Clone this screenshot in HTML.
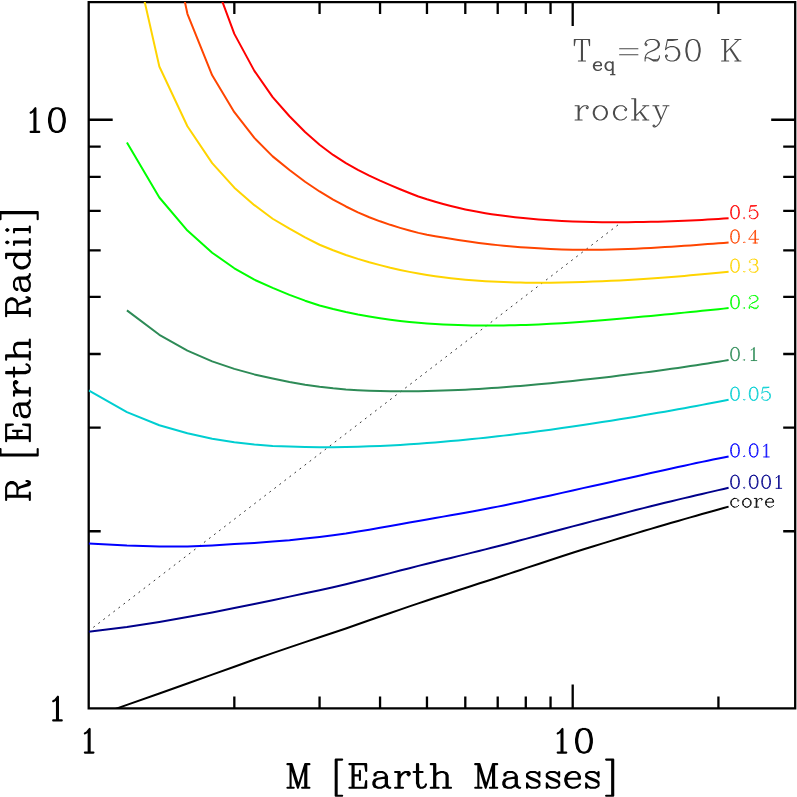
<!DOCTYPE html>
<html lang="en"><head><meta charset="utf-8"><title>Mass-radius relation, T_eq=250 K, rocky</title>
<style>html,body{margin:0;padding:0;background:#fff;font-family:"Liberation Serif",serif}svg{display:block}</style>
</head><body>
<svg width="797" height="797" viewBox="0 0 797 797" style="display:block">
<rect width="797" height="797" fill="#fff"/>
<defs><clipPath id="fr"><rect x="88.7" y="2.1" width="706.5" height="706.35"/></clipPath></defs>
<path d="M88.7 2.1H795.2V708.45H88.7ZM234.33 708.45v-12M234.33 2.1v12M319.57 708.45v-12M319.57 2.1v12M380.06 708.45v-12M380.06 2.1v12M426.97 708.45v-12M426.97 2.1v12M465.3 708.45v-12M465.3 2.1v12M497.71 708.45v-12M497.71 2.1v12M525.79 708.45v-12M525.79 2.1v12M550.55 708.45v-12M550.55 2.1v12M572.7 708.45v-24M572.7 2.1v24M718.43 708.45v-12M718.43 2.1v12M88.7 531.23h12M795.2 531.23h-12M88.7 427.57h12M795.2 427.57h-12M88.7 354.02h12M795.2 354.02h-12M88.7 296.97h12M795.2 296.97h-12M88.7 250.35h12M795.2 250.35h-12M88.7 210.94h12M795.2 210.94h-12M88.7 176.8h12M795.2 176.8h-12M88.7 146.69h12M795.2 146.69h-12M88.7 119.75h24M795.2 119.75h-24" fill="none" stroke="#000" stroke-width="2.3" stroke-linecap="butt" stroke-linejoin="miter"/>
<line x1="88.6" y1="631.0" x2="618.4" y2="224.6" stroke="#222" stroke-width="0.92" stroke-dasharray="1.9 4.44" stroke-dashoffset="0.4" fill="none"/>
<g clip-path="url(#fr)" fill="none" stroke-width="2" stroke-linejoin="round" stroke-linecap="butt">
<polyline stroke="#ff0000" points="212.18,-25.8 234.33,33.89 254.37,70.87 272.66,97.15 289.49,116.26 305.07,132.06 319.57,144.74 333.14,154.95 345.89,163.14 357.91,169.79 369.27,175.61 380.06,180.69 390.31,185.21 400.1,189.29 409.44,193.04 418.39,196.47 426.97,199.26 435.22,201.73 443.15,203.97 450.8,205.99 458.18,207.79 465.3,209.4 472.2,210.83 478.87,212.09 485.34,213.21 491.62,214.19 497.71,215.05 503.63,215.86 509.4,216.6 515,217.25 520.46,217.83 525.79,218.35 538.53,219.39 550.55,220.26 561.92,220.92 572.7,221.4 582.96,221.75 592.74,221.98 602.08,222.13 611.03,222.21 619.61,222.22 627.86,222.19 635.79,222.11 643.44,222 650.82,221.86 657.95,221.7 664.84,221.5 671.51,221.29 677.98,221.05 684.26,220.8 690.35,220.53 696.28,220.24 702.04,219.94 707.64,219.62 713.11,219.29 718.43,218.94 723.62,218.57 728.6,218.2"/>
<polyline stroke="#ff4500" points="159.34,-118.8 187.41,13.8 212.18,75.3 234.33,112.18 254.37,137.89 272.66,156.35 289.49,170.04 305.07,181.77 319.57,191.47 333.14,199.59 345.89,206.49 357.91,212.4 369.27,217.21 380.06,221.32 390.31,224.83 400.1,227.85 409.44,230.51 418.39,232.87 426.97,234.7 435.22,236.24 443.15,237.61 450.8,238.83 458.18,239.9 465.3,240.99 472.2,242.01 478.87,242.92 485.34,243.74 491.62,244.47 497.71,245.12 503.63,245.73 509.4,246.28 515,246.77 520.46,247.2 525.79,247.58 538.53,248.33 550.55,248.96 561.92,249.4 572.7,249.67 582.96,249.79 592.74,249.8 602.08,249.71 611.03,249.54 619.61,249.31 627.86,249.02 635.79,248.7 643.44,248.34 650.82,247.95 657.95,247.54 664.84,247.12 671.51,246.69 677.98,246.26 684.26,245.82 690.35,245.38 696.28,244.95 702.04,244.52 707.64,244.1 713.11,243.68 718.43,243.28 723.62,242.89 728.6,242.52"/>
<polyline stroke="#ffd400" points="126.93,-76.6 159.34,66.5 187.41,126.2 212.18,163.1 234.33,187.69 254.37,205.15 272.66,218.76 289.49,228.72 305.07,237.43 319.57,244.74 333.14,250.3 345.89,254.96 357.91,258.9 369.27,262.25 380.06,265.11 390.31,267.71 400.1,269.95 409.44,271.88 418.39,273.56 426.97,274.99 435.22,276.22 443.15,277.28 450.8,278.2 458.18,279 465.3,279.68 472.2,280.27 478.87,280.77 485.34,281.19 491.62,281.55 497.71,281.85 503.63,282.1 509.4,282.3 515,282.45 520.46,282.57 525.79,282.66 538.53,282.75 550.55,282.69 561.92,282.52 572.7,282.26 582.96,281.95 592.74,281.61 602.08,281.23 611.03,280.82 619.61,280.38 627.86,279.92 635.79,279.44 643.44,278.95 650.82,278.45 657.95,277.95 664.84,277.44 671.51,276.92 677.98,276.41 684.26,275.89 690.35,275.37 696.28,274.85 702.04,274.33 707.64,273.81 713.11,273.29 718.43,272.77 723.62,272.25 728.6,271.75"/>
<polyline stroke="#00ff00" points="126.93,142.5 159.34,197.5 187.41,230.6 212.18,252.7 234.33,268.29 254.37,279.71 272.66,287.87 289.49,294.91 305.07,300.68 319.57,305.47 333.14,309.06 345.89,312.03 357.91,314.51 369.27,316.57 380.06,318.29 390.31,319.72 400.1,320.9 409.44,321.89 418.39,322.69 426.97,323.4 435.22,323.98 443.15,324.46 450.8,324.83 458.18,325.12 465.3,325.33 472.2,325.48 478.87,325.56 485.34,325.6 491.62,325.6 497.71,325.56 503.63,325.48 509.4,325.37 515,325.24 520.46,325.08 525.79,324.91 538.53,324.39 550.55,323.8 561.92,323.14 572.7,322.45 582.96,321.74 592.74,321.01 602.08,320.27 611.03,319.53 619.61,318.79 627.86,318.05 635.79,317.33 643.44,316.62 650.82,315.92 657.95,315.23 664.84,314.56 671.51,313.9 677.98,313.25 684.26,312.62 690.35,312.01 696.28,311.41 702.04,310.82 707.64,310.25 713.11,309.69 718.43,309.15 723.62,308.62 728.6,308.11"/>
<polyline stroke="#2e8b57" points="126.93,310.4 159.34,334.8 187.41,350.6 212.18,361.4 234.33,368.9 254.37,374.4 272.66,378.48 289.49,382.07 305.07,384.71 319.57,386.75 333.14,388.32 345.89,389.44 357.91,390.2 369.27,390.72 380.06,391.06 390.31,391.24 400.1,391.31 409.44,391.27 418.39,391.15 426.97,391 435.22,390.81 443.15,390.57 450.8,390.29 458.18,389.97 465.3,389.63 472.2,389.26 478.87,388.88 485.34,388.48 491.62,388.06 497.71,387.64 503.63,387.21 509.4,386.77 515,386.33 520.46,385.88 525.79,385.43 538.53,384.3 550.55,383.18 561.92,382.05 572.7,380.94 582.96,379.84 592.74,378.76 602.08,377.69 611.03,376.65 619.61,375.61 627.86,374.6 635.79,373.6 643.44,372.62 650.82,371.65 657.95,370.69 664.84,369.75 671.51,368.82 677.98,367.9 684.26,366.99 690.35,366.09 696.28,365.2 702.04,364.32 707.64,363.45 713.11,362.59 718.43,361.73 723.62,360.88 728.6,360.05"/>
<polyline stroke="#00ced1" points="88.6,390.3 126.93,412.1 159.34,425.2 187.41,433.2 212.18,438.7 234.33,442.2 254.37,444.5 272.66,446 289.49,446.53 305.07,446.95 319.57,447.14 333.14,447.14 345.89,446.99 357.91,446.72 369.27,446.36 380.06,445.93 390.31,445.44 400.1,444.9 409.44,444.33 418.39,443.72 426.97,443.1 435.22,442.45 443.15,441.79 450.8,441.12 458.18,440.44 465.3,439.76 472.2,439.07 478.87,438.38 485.34,437.69 491.62,437 497.71,436.32 503.63,435.63 509.4,434.95 515,434.27 520.46,433.6 525.79,432.93 538.53,431.28 550.55,429.66 561.92,428.07 572.7,426.53 582.96,425.01 592.74,423.54 602.08,422.09 611.03,420.68 619.61,419.31 627.86,417.96 635.79,416.64 643.44,415.36 650.82,414.1 657.95,412.86 664.84,411.66 671.51,410.47 677.98,409.31 684.26,408.18 690.35,407.06 696.28,405.96 702.04,404.89 707.64,403.83 713.11,402.79 718.43,401.77 723.62,400.77 728.6,399.8"/>
<polyline stroke="#0000ff" points="88.6,543.4 126.93,545.6 159.34,546.6 187.41,546.4 212.18,545.4 234.33,544.11 254.37,542.91 272.66,541.55 289.49,540.2 305.07,538.58 319.57,536.94 333.14,535.32 345.89,533.52 357.91,531.55 369.27,529.65 380.06,527.8 390.31,526.01 400.1,524.28 409.44,522.59 418.39,520.96 426.97,519.47 435.22,518.04 443.15,516.64 450.8,515.28 458.18,513.96 465.3,512.66 472.2,511.4 478.87,510.16 485.34,508.96 491.62,507.77 497.71,506.61 503.63,505.42 509.4,504.23 515,503.06 520.46,501.91 525.79,500.78 538.53,498.04 550.55,495.41 561.92,492.88 572.7,490.44 582.96,488.14 592.74,486 602.08,483.95 611.03,481.96 619.61,480.05 627.86,478.21 635.79,476.43 643.44,474.72 650.82,473.07 657.95,471.48 664.84,469.94 671.51,468.47 677.98,467.05 684.26,465.68 690.35,464.36 696.28,463.09 702.04,461.87 707.64,460.7 713.11,459.57 718.43,458.49 723.62,457.44 728.6,456.46"/>
<polyline stroke="#00008b" points="88.6,631.7 126.93,627.1 159.34,621.9 187.41,617 212.18,612.4 234.33,608 254.37,603.9 272.66,600.24 289.49,596.64 305.07,593.33 319.57,590.21 333.14,587.27 345.89,584.3 357.91,581.3 369.27,578.44 380.06,575.71 390.31,573.1 400.1,570.59 409.44,568.19 418.39,565.88 426.97,563.77 435.22,561.75 443.15,559.81 450.8,557.93 458.18,556.12 465.3,554.35 472.2,552.65 478.87,550.99 485.34,549.39 491.62,547.82 497.71,546.3 503.63,544.77 509.4,543.24 515,541.74 520.46,540.29 525.79,538.87 538.53,535.48 550.55,532.28 561.92,529.25 572.7,526.39 582.96,523.68 592.74,521.14 602.08,518.73 611.03,516.42 619.61,514.22 627.86,512.11 635.79,510.09 643.44,508.15 650.82,506.3 657.95,504.51 664.84,502.82 671.51,501.2 677.98,499.64 684.26,498.14 690.35,496.69 696.28,495.29 702.04,493.94 707.64,492.63 713.11,491.37 718.43,490.15 723.62,488.96 728.6,487.84"/>
<polyline stroke="#000000" points="88.6,718.5 126.93,704.9 159.34,693.5 187.41,683.5 212.18,674.6 234.33,666.7 254.37,659.5 272.66,653.14 289.49,647.37 305.07,642.11 319.57,637.27 333.14,632.78 345.89,628.45 357.91,624.23 369.27,620.26 380.06,616.51 390.31,612.97 400.1,609.61 409.44,606.41 418.39,603.36 426.97,600.51 435.22,597.79 443.15,595.18 450.8,592.68 458.18,590.27 465.3,587.95 472.2,585.71 478.87,583.55 485.34,581.46 491.62,579.44 497.71,577.48 503.63,575.53 509.4,573.61 515,571.74 520.46,569.93 525.79,568.16 538.53,563.95 550.55,560.01 561.92,556.29 572.7,552.78 582.96,549.5 592.74,546.48 602.08,543.6 611.03,540.87 619.61,538.25 627.86,535.76 635.79,533.37 643.44,531.08 650.82,528.89 657.95,526.78 664.84,524.75 671.51,522.8 677.98,520.92 684.26,519.11 690.35,517.36 696.28,515.67 702.04,514.04 707.64,512.46 713.11,510.93 718.43,509.45 723.62,508.02 728.6,506.66"/>
</g>
<g transform="translate(285.25 787.8)" role="img" aria-label="M [Earth Masses]"><title>M [Earth Masses]</title><path d="M2.18 -23.67L6.37 -23.67L12.66 -3.38M2.18 0L8.47 0M5.33 0L5.33 -23.67L12.66 0L20 -23.67L24.19 -23.67M16.86 0L24.19 0M20 -23.67L20 0M21.05 -23.67L21.05 0M51.39 -28.18L51.39 7.89L56.93 7.89M51.39 -28.18L56.93 -28.18M51.39 -28.18L50.47 -28.18L50.47 7.89L51.39 7.89M64.16 -23.67L80.93 -23.67L80.93 -16.91L79.88 -23.67M64.16 0L80.93 0L80.93 -6.76L79.88 0M67.3 -23.67L67.3 0M68.35 -23.67L68.35 0M68.35 -12.4L74.64 -12.4L74.64 -16.91M74.64 -12.4L74.64 -7.89M90.39 -13.52L90.39 -12.4L89.26 -12.4L89.26 -13.52L90.39 -14.65L92.64 -15.78L97.15 -15.78L99.4 -14.65L100.53 -13.52L101.66 -11.27L101.66 -3.38L102.78 -1.13L103.91 0L105.04 0M92.64 -9.02L99.4 -10.14L100.53 -11.27L100.53 -13.52M92.64 -9.02L89.26 -7.89L88.13 -5.63L88.13 -3.38L89.26 -1.13L92.64 0L96.02 0L98.28 -1.13L100.53 -3.38L100.53 -11.27M92.64 -9.02L90.39 -7.89L89.26 -5.63L89.26 -3.38L90.39 -1.13L92.64 0M100.53 -3.38L101.66 -1.13L103.91 0M109.85 -15.78L114.35 -15.78L114.35 0L109.85 0M113.23 -15.78L113.23 0M114.35 -9.02L115.48 -12.4L117.74 -14.65L119.99 -15.78L123.37 -15.78L124.5 -14.65L124.5 -13.52L123.37 -12.4L122.24 -13.52L123.37 -14.65M114.35 0L117.74 0M128.35 -15.78L137.37 -15.78M131.74 -23.67L131.74 -4.51L132.86 -1.13L135.12 0L137.37 0L139.62 -1.13L140.75 -3.38M132.86 -23.67L132.86 -4.51L133.99 -1.13L135.12 0M145.51 -23.67L150.02 -23.67L150.02 0L145.51 0M148.89 -23.67L148.89 0M150.02 -12.4L152.27 -14.65L155.65 -15.78L157.91 -15.78L161.29 -14.65L162.41 -12.4L162.41 0L165.8 0M150.02 0L153.4 0M157.91 -15.78L160.16 -14.65L161.29 -12.4L161.29 0L162.41 0M157.91 0L161.29 0M189.96 -23.67L194.16 -23.67L200.45 -3.38M189.96 0L196.25 0M193.11 0L193.11 -23.67L200.45 0L207.78 -23.67L211.97 -23.67M204.64 0L211.97 0M207.78 -23.67L207.78 0M208.83 -23.67L208.83 0M220.29 -13.52L220.29 -12.4L219.17 -12.4L219.17 -13.52L220.29 -14.65L222.55 -15.78L227.05 -15.78L229.31 -14.65L230.44 -13.52L231.56 -11.27L231.56 -3.38L232.69 -1.13L233.82 0L234.94 0M222.55 -9.02L229.31 -10.14L230.44 -11.27L230.44 -13.52M222.55 -9.02L219.17 -7.89L218.04 -5.63L218.04 -3.38L219.17 -1.13L222.55 0L225.93 0L228.18 -1.13L230.44 -3.38L230.44 -11.27M222.55 -9.02L220.29 -7.89L219.17 -5.63L219.17 -3.38L220.29 -1.13L222.55 0M230.44 -3.38L231.56 -1.13L233.82 0M241.78 -12.4L241.78 -11.27L242.91 -10.14L245.16 -9.02L250.79 -6.76L253.05 -5.63L254.18 -4.51L254.18 -2.25L253.05 -1.13L250.79 0L246.29 0L244.03 -1.13L242.91 -2.25L241.78 -4.51L241.78 0L242.91 -2.25M241.78 -12.4L242.91 -11.27L245.16 -10.14L250.79 -7.89L253.05 -6.76L254.18 -5.63L254.18 -4.51M241.78 -12.4L241.78 -13.52L242.91 -14.65L245.16 -15.78L249.67 -15.78L251.92 -14.65L253.05 -13.52L254.18 -11.27L254.18 -15.78L253.05 -13.52M261.54 -12.4L261.54 -11.27L262.66 -10.14L264.92 -9.02L270.55 -6.76L272.81 -5.63L273.93 -4.51L273.93 -2.25L272.81 -1.13L270.55 0L266.05 0L263.79 -1.13L262.66 -2.25L261.54 -4.51L261.54 0L262.66 -2.25M261.54 -12.4L262.66 -11.27L264.92 -10.14L270.55 -7.89L272.81 -6.76L273.93 -5.63L273.93 -4.51M261.54 -12.4L261.54 -13.52L262.66 -14.65L264.92 -15.78L269.43 -15.78L271.68 -14.65L272.81 -13.52L273.93 -11.27L273.93 -15.78L272.81 -13.52M281.12 -9.02L281.12 -6.76L282.25 -3.38L284.5 -1.13L286.76 0L289.01 0L292.39 -1.13L294.65 -3.38M281.12 -9.02L294.65 -9.02L294.65 -11.27L293.52 -13.52L292.39 -14.65L290.14 -15.78L286.76 -15.78L283.38 -14.65L281.12 -12.4L280 -9.02L280 -6.76L281.12 -3.38L283.38 -1.13L286.76 0M281.12 -9.02L282.25 -12.4L284.5 -14.65L286.76 -15.78M292.39 -14.65L293.52 -12.4L293.52 -9.02M300.91 -12.4L300.91 -11.27L302.04 -10.14L304.29 -9.02L309.93 -6.76L312.18 -5.63L313.31 -4.51L313.31 -2.25L312.18 -1.13L309.93 0L305.42 0L303.16 -1.13L302.04 -2.25L300.91 -4.51L300.91 0L302.04 -2.25M300.91 -12.4L302.04 -11.27L304.29 -10.14L309.93 -7.89L312.18 -6.76L313.31 -5.63L313.31 -4.51M300.91 -12.4L300.91 -13.52L302.04 -14.65L304.29 -15.78L308.8 -15.78L311.05 -14.65L312.18 -13.52L313.31 -11.27L313.31 -15.78L312.18 -13.52M320.86 -28.18L327.96 -28.18L327.96 7.89L320.86 7.89M326.94 -28.18L326.94 7.89" fill="none" stroke="#000" stroke-width="2.1" stroke-linecap="round" stroke-linejoin="round"/></g>
<g transform="translate(29.8 502.85) rotate(-90)" role="img" aria-label="R [Earth Radii]"><title>R [Earth Radii]</title><path d="M2.96 -23.67L15.54 -23.67L18.69 -22.54L19.73 -21.41L20.78 -19.16L20.78 -16.91L19.73 -14.65L18.69 -13.52L15.54 -12.4L7.16 -12.4L7.16 0L2.96 0M6.11 -23.67L6.11 0M7.16 -23.67L7.16 -12.4M7.16 0L10.3 0M12.4 -12.4L14.49 -11.27L15.54 -10.14L18.69 -2.25L19.73 -1.13L20.78 -1.13L21.83 -2.25L21.83 -3.38M14.49 -11.27L15.54 -9.02L17.64 -1.13L18.69 0L20.78 0L21.83 -2.25M15.54 -23.67L17.64 -22.54L18.69 -21.41L19.73 -19.16L19.73 -16.91L18.69 -14.65L17.64 -13.52L15.54 -12.4M48.26 -29.3L48.26 7.89L53.8 7.89M48.26 -29.3L53.8 -29.3M48.26 -29.3L47.33 -29.3L47.33 7.89L48.26 7.89M61.53 -23.67L78.3 -23.67L78.3 -16.91L77.25 -23.67M61.53 0L78.3 0L78.3 -6.76L77.25 0M64.67 -23.67L64.67 0M65.72 -23.67L65.72 0M65.72 -12.4L72.01 -12.4L72.01 -16.91M72.01 -12.4L72.01 -7.89M87.91 -13.52L87.91 -12.4L86.78 -12.4L86.78 -13.52L87.91 -14.65L90.16 -15.78L94.67 -15.78L96.92 -14.65L98.05 -13.52L99.18 -11.27L99.18 -3.38L100.3 -1.13L101.43 0L102.56 0M90.16 -9.02L96.92 -10.14L98.05 -11.27L98.05 -13.52M90.16 -9.02L86.78 -7.89L85.65 -5.63L85.65 -3.38L86.78 -1.13L90.16 0L93.54 0L95.8 -1.13L98.05 -3.38L98.05 -11.27M90.16 -9.02L87.91 -7.89L86.78 -5.63L86.78 -3.38L87.91 -1.13L90.16 0M98.05 -3.38L99.18 -1.13L101.43 0M107.07 -15.78L111.57 -15.78L111.57 0L107.07 0M110.45 -15.78L110.45 0M111.57 -9.02L112.7 -12.4L114.95 -14.65L117.21 -15.78L120.59 -15.78L121.72 -14.65L121.72 -13.52L120.59 -12.4L119.46 -13.52L120.59 -14.65M111.57 0L114.95 0M126.22 -15.78L135.24 -15.78M129.6 -23.67L129.6 -4.51L130.73 -1.13L132.99 0L135.24 0L137.49 -1.13L138.62 -3.38M130.73 -23.67L130.73 -4.51L131.86 -1.13L132.99 0M143.13 -23.67L147.64 -23.67L147.64 0L143.13 0M146.51 -23.67L146.51 0M147.64 -12.4L149.89 -14.65L153.27 -15.78L155.53 -15.78L158.91 -14.65L160.03 -12.4L160.03 0L163.41 0M147.64 0L151.02 0M155.53 -15.78L157.78 -14.65L158.91 -12.4L158.91 0L160.03 0M155.53 0L158.91 0M186.67 -23.67L199.24 -23.67L202.39 -22.54L203.43 -21.41L204.48 -19.16L204.48 -16.91L203.43 -14.65L202.39 -13.52L199.24 -12.4L190.86 -12.4L190.86 0L186.67 0M189.81 -23.67L189.81 0M190.86 -23.67L190.86 -12.4M190.86 0L194 0M196.1 -12.4L198.19 -11.27L199.24 -10.14L202.39 -2.25L203.43 -1.13L204.48 -1.13L205.53 -2.25L205.53 -3.38M198.19 -11.27L199.24 -9.02L201.34 -1.13L202.39 0L204.48 0L205.53 -2.25M199.24 -23.67L201.34 -22.54L202.39 -21.41L203.43 -19.16L203.43 -16.91L202.39 -14.65L201.34 -13.52L199.24 -12.4M214.13 -13.52L214.13 -12.4L213 -12.4L213 -13.52L214.13 -14.65L216.38 -15.78L220.89 -15.78L223.15 -14.65L224.27 -13.52L225.4 -11.27L225.4 -3.38L226.53 -1.13L227.65 0L228.78 0M216.38 -9.02L223.15 -10.14L224.27 -11.27L224.27 -13.52M216.38 -9.02L213 -7.89L211.88 -5.63L211.88 -3.38L213 -1.13L216.38 0L219.77 0L222.02 -1.13L224.27 -3.38L224.27 -11.27M216.38 -9.02L214.13 -7.89L213 -5.63L213 -3.38L214.13 -1.13L216.38 0M224.27 -3.38L225.4 -1.13L227.65 0M241.18 -15.78L238.92 -14.65L236.67 -12.4L235.54 -9.02L235.54 -6.76L236.67 -3.38L238.92 -1.13L241.18 0L243.43 0L245.69 -1.13L247.94 -3.38L247.94 -23.67L249.07 -23.67L249.07 0L252.45 0M241.18 -15.78L237.8 -14.65L235.54 -12.4L234.42 -9.02L234.42 -6.76L235.54 -3.38L237.8 -1.13L241.18 0M241.18 -15.78L243.43 -15.78L245.69 -14.65L247.94 -12.4M244.56 -23.67L247.94 -23.67M247.94 -3.38L247.94 0L249.07 0M257.94 -15.78L261.32 -15.78L261.32 0L257.94 0M260.48 -15.78L260.48 0M261.32 0L263.86 0M259.63 -22.54L260.48 -21.41L261.32 -22.54L260.48 -23.67L259.63 -22.54M270.34 -15.78L273.72 -15.78L273.72 0L270.34 0M272.87 -15.78L272.87 0M273.72 0L276.26 0M272.03 -22.54L272.87 -21.41L273.72 -22.54L272.87 -23.67L272.03 -22.54M283.67 -29.3L290.77 -29.3L290.77 7.89L283.67 7.89M289.75 -29.3L289.75 7.89" fill="none" stroke="#000" stroke-width="2.1" stroke-linecap="round" stroke-linejoin="round"/></g>
<g transform="translate(77.33 752.6)" role="img" aria-label="1"><title>1</title><path d="M7.52 -19.16L9.44 -20.29L12.31 -23.67L12.31 0L16.14 0M7.52 0L12.31 0M11.35 -22.54L11.35 0" fill="none" stroke="#000" stroke-width="2.1" stroke-linecap="round" stroke-linejoin="round"/></g>
<g transform="translate(550.16 752.6)" role="img" aria-label="10"><title>10</title><path d="M7.52 -19.16L9.44 -20.29L12.31 -23.67L12.31 0L16.14 0M7.52 0L12.31 0M11.35 -22.54L11.35 0M32.68 -23.67L29.3 -22.54L27.05 -19.16L25.92 -13.52L25.92 -10.14L27.05 -4.51L29.3 -1.13L32.68 0L34.94 0L38.32 -1.13L40.57 -4.51L41.7 -10.14L41.7 -13.52L40.57 -19.16L38.32 -22.54L34.94 -23.67L32.68 -23.67L30.43 -22.54L29.3 -21.41L28.17 -19.16L27.05 -13.52L27.05 -10.14L28.17 -4.51L29.3 -2.25L30.43 -1.13L32.68 0M34.94 -23.67L37.19 -22.54L38.32 -21.41L39.45 -19.16L40.57 -13.52L40.57 -10.14L39.45 -4.51L38.32 -2.25L37.19 -1.13L34.94 0" fill="none" stroke="#000" stroke-width="2.1" stroke-linecap="round" stroke-linejoin="round"/></g>
<g transform="translate(23.1 131.9)" role="img" aria-label="10"><title>10</title><path d="M7.52 -19.16L9.44 -20.29L12.31 -23.67L12.31 0L16.14 0M7.52 0L12.31 0M11.35 -22.54L11.35 0M32.68 -23.67L29.3 -22.54L27.05 -19.16L25.92 -13.52L25.92 -10.14L27.05 -4.51L29.3 -1.13L32.68 0L34.94 0L38.32 -1.13L40.57 -4.51L41.7 -10.14L41.7 -13.52L40.57 -19.16L38.32 -22.54L34.94 -23.67L32.68 -23.67L30.43 -22.54L29.3 -21.41L28.17 -19.16L27.05 -13.52L27.05 -10.14L28.17 -4.51L29.3 -2.25L30.43 -1.13L32.68 0M34.94 -23.67L37.19 -22.54L38.32 -21.41L39.45 -19.16L40.57 -13.52L40.57 -10.14L39.45 -4.51L38.32 -2.25L37.19 -1.13L34.94 0" fill="none" stroke="#000" stroke-width="2.1" stroke-linecap="round" stroke-linejoin="round"/></g>
<g transform="translate(45.64 720.4)" role="img" aria-label="1"><title>1</title><path d="M7.52 -19.16L9.44 -20.29L12.31 -23.67L12.31 0L16.14 0M7.52 0L12.31 0M11.35 -22.54L11.35 0" fill="none" stroke="#000" stroke-width="2.1" stroke-linecap="round" stroke-linejoin="round"/></g>
<g transform="translate(572.26 60.9)" role="img" aria-label="T"><title>T</title><path d="M3.06 -21.42L17.34 -21.42L17.34 -15.3L16.32 -21.42M3.06 -21.42L2.04 -21.42L2.04 -15.3L3.06 -21.42M6.12 0L13.26 0M9.18 -21.42L9.18 0M10.2 -21.42L10.2 0" fill="none" stroke="#4a4a4a" stroke-width="1.05" stroke-linecap="round" stroke-linejoin="round"/></g>
<g transform="translate(591.64 70.4)" role="img" aria-label="eq"><title>eq</title><path d="M2.45 -4.9L2.45 -3.67L3.06 -1.84L4.28 -0.61L5.51 0L6.73 0L8.57 -0.61L9.79 -1.84M2.45 -4.9L9.79 -4.9L9.79 -6.12L9.18 -7.34L8.57 -7.96L7.34 -8.57L5.51 -8.57L3.67 -7.96L2.45 -6.73L1.84 -4.9L1.84 -3.67L2.45 -1.84L3.67 -0.61L5.51 0M2.45 -4.9L3.06 -6.73L4.28 -7.96L5.51 -8.57M8.57 -7.96L9.18 -6.73L9.18 -4.9M17.14 -8.57L15.91 -7.96L14.69 -6.73L14.08 -4.9L14.08 -3.67L14.69 -1.84L15.91 -0.61L17.14 0L18.36 0L19.58 -0.61L20.81 -1.84L20.81 -8.57M17.14 -8.57L15.3 -7.96L14.08 -6.73L13.46 -4.9L13.46 -3.67L14.08 -1.84L15.3 -0.61L17.14 0M17.14 -8.57L18.36 -8.57L19.58 -7.96L20.81 -6.73M18.97 4.28L23.26 4.28M20.81 -1.84L20.81 4.28M21.42 -8.57L21.42 4.28" fill="none" stroke="#4a4a4a" stroke-width="1.25" stroke-linecap="round" stroke-linejoin="round"/></g>
<g transform="translate(615.51 60.9)" role="img" aria-label="=250 K"><title>=250 K</title><path d="M4.08 -12.24L22.44 -12.24M4.08 -6.12L22.44 -6.12M29.58 -2.04L29.58 -3.06L30.6 -6.12L32.64 -8.16L38.76 -11.22L41.82 -13.26L42.84 -15.3L42.84 -17.34L41.82 -19.38L40.8 -20.4L38.76 -21.42L34.68 -21.42L31.62 -20.4L30.6 -19.38L29.58 -17.34L29.58 -16.32L30.6 -15.3L31.62 -16.32L30.6 -17.34M29.58 -2.04L29.58 0M29.58 -2.04L30.6 -3.06L32.64 -3.06L37.74 -1.02L40.8 -1.02L42.84 -2.04L43.86 -3.06L43.86 -5.1M32.64 -3.06L37.74 0L41.82 0L42.84 -1.02L43.86 -3.06M34.68 -9.18L39.78 -11.22L42.84 -13.26L43.86 -15.3L43.86 -17.34L42.84 -19.38L41.82 -20.4L38.76 -21.42M51 -4.08L52.02 -5.1L51 -6.12L49.98 -5.1L49.98 -4.08L51 -2.04L52.02 -1.02L55.08 0L58.14 0L61.2 -1.02L63.24 -3.06L64.26 -6.12L64.26 -8.16L63.24 -11.22L61.2 -13.26L58.14 -14.28L55.08 -14.28L52.02 -13.26L49.98 -11.22L52.02 -21.42L62.22 -21.42L57.12 -20.4L52.02 -20.4M58.14 -14.28L60.18 -13.26L62.22 -11.22L63.24 -8.16L63.24 -6.12L62.22 -3.06L60.18 -1.02L58.14 0M76.5 -21.42L73.44 -20.4L71.4 -17.34L70.38 -12.24L70.38 -9.18L71.4 -4.08L73.44 -1.02L76.5 0L78.54 0L81.6 -1.02L83.64 -4.08L84.66 -9.18L84.66 -12.24L83.64 -17.34L81.6 -20.4L78.54 -21.42L76.5 -21.42L74.46 -20.4L73.44 -19.38L72.42 -17.34L71.4 -12.24L71.4 -9.18L72.42 -4.08L73.44 -2.04L74.46 -1.02L76.5 0M78.54 -21.42L80.58 -20.4L81.6 -19.38L82.62 -17.34L83.64 -12.24L83.64 -9.18L82.62 -4.08L81.6 -2.04L80.58 -1.02L78.54 0M106.08 -21.42L113.22 -21.42M106.08 0L113.22 0M109.14 -21.42L109.14 0M110.16 -21.42L110.16 0M110.16 -8.16L123.42 -21.42L125.46 -21.42M114.24 -12.24L122.4 0L125.46 0M115.26 -12.24L123.42 0M119.34 -21.42L123.42 -21.42M119.34 0L122.4 0" fill="none" stroke="#4a4a4a" stroke-width="1.05" stroke-linecap="round" stroke-linejoin="round"/></g>
<g transform="translate(573.06 119.9)" role="img" aria-label="rocky"><title>rocky</title><path d="M2.02 -14.14L6.06 -14.14L6.06 0L2.02 0M5.05 -14.14L5.05 0M6.06 -8.08L7.07 -11.11L9.09 -13.13L11.11 -14.14L14.14 -14.14L15.15 -13.13L15.15 -12.12L14.14 -11.11L13.13 -12.12L14.14 -13.13M6.06 0L9.09 0M26.26 -14.14L24.24 -13.13L22.22 -11.11L21.21 -8.08L21.21 -6.06L22.22 -3.03L24.24 -1.01L26.26 0L28.28 0L31.31 -1.01L33.33 -3.03L34.34 -6.06L34.34 -8.08L33.33 -11.11L31.31 -13.13L28.28 -14.14L26.26 -14.14L23.23 -13.13L21.21 -11.11L20.2 -8.08L20.2 -6.06L21.21 -3.03L23.23 -1.01L26.26 0M28.28 -14.14L30.3 -13.13L32.32 -11.11L33.33 -8.08L33.33 -6.06L32.32 -3.03L30.3 -1.01L28.28 0M46.46 -14.14L44.44 -13.13L42.42 -11.11L41.41 -8.08L41.41 -6.06L42.42 -3.03L44.44 -1.01L46.46 0L48.48 0L51.51 -1.01L53.53 -3.03M46.46 -14.14L43.43 -13.13L41.41 -11.11L40.4 -8.08L40.4 -6.06L41.41 -3.03L43.43 -1.01L46.46 0M46.46 -14.14L49.49 -14.14L51.51 -13.13L53.53 -11.11L53.53 -10.1L52.52 -9.09L51.51 -10.1L52.52 -11.11M58.58 -21.21L62.62 -21.21L62.62 0L58.58 0M61.61 -21.21L61.61 0M62.62 -4.04L72.72 -14.14L75.75 -14.14M62.62 0L65.65 0M66.66 -8.08L72.72 0L75.75 0M67.67 -8.08L73.73 0M69.69 -14.14L72.72 -14.14M69.69 0L72.72 0M79.79 -14.14L85.85 -14.14M81.81 -14.14L87.87 0L85.85 4.04L83.83 6.06L81.81 7.07L80.8 7.07L79.79 6.06L80.8 5.05L81.81 6.06M82.82 -14.14L87.87 -2.02M87.87 0L93.93 -14.14L95.95 -14.14M89.89 -14.14L93.93 -14.14" fill="none" stroke="#4a4a4a" stroke-width="1.05" stroke-linecap="round" stroke-linejoin="round"/></g>
<g transform="translate(728.8 218.7)" role="img" aria-label="0.5"><title>0.5</title><path d="M5.6 -13.06L3.73 -12.44L2.49 -10.57L1.87 -7.46L1.87 -5.6L2.49 -2.49L3.73 -0.62L5.6 0L6.84 0L8.71 -0.62L9.95 -2.49L10.57 -5.6L10.57 -7.46L9.95 -10.57L8.71 -12.44L6.84 -13.06L5.6 -13.06L4.35 -12.44L3.73 -11.82L3.11 -10.57L2.49 -7.46L2.49 -5.6L3.11 -2.49L3.73 -1.24L4.35 -0.62L5.6 0M6.84 -13.06L8.09 -12.44L8.71 -11.82L9.33 -10.57L9.95 -7.46L9.95 -5.6L9.33 -2.49L8.71 -1.24L8.09 -0.62L6.84 0M14.93 -0.62L15.55 -1.24L16.17 -0.62L15.55 0L14.93 -0.62M21.15 -2.49L21.77 -3.11L21.15 -3.73L20.53 -3.11L20.53 -2.49L21.15 -1.24L21.77 -0.62L23.64 0L25.5 0L27.37 -0.62L28.61 -1.87L29.23 -3.73L29.23 -4.98L28.61 -6.84L27.37 -8.09L25.5 -8.71L23.64 -8.71L21.77 -8.09L20.53 -6.84L21.77 -13.06L27.99 -13.06L24.88 -12.44L21.77 -12.44M25.5 -8.71L26.75 -8.09L27.99 -6.84L28.61 -4.98L28.61 -3.73L27.99 -1.87L26.75 -0.62L25.5 0" fill="none" stroke="#ff0000" stroke-width="0.9" stroke-linecap="round" stroke-linejoin="round"/></g>
<g transform="translate(728.8 243.02)" role="img" aria-label="0.4"><title>0.4</title><path d="M5.6 -13.06L3.73 -12.44L2.49 -10.57L1.87 -7.46L1.87 -5.6L2.49 -2.49L3.73 -0.62L5.6 0L6.84 0L8.71 -0.62L9.95 -2.49L10.57 -5.6L10.57 -7.46L9.95 -10.57L8.71 -12.44L6.84 -13.06L5.6 -13.06L4.35 -12.44L3.73 -11.82L3.11 -10.57L2.49 -7.46L2.49 -5.6L3.11 -2.49L3.73 -1.24L4.35 -0.62L5.6 0M6.84 -13.06L8.09 -12.44L8.71 -11.82L9.33 -10.57L9.95 -7.46L9.95 -5.6L9.33 -2.49L8.71 -1.24L8.09 -0.62L6.84 0M14.93 -0.62L15.55 -1.24L16.17 -0.62L15.55 0L14.93 -0.62M24.26 0L28.61 0M26.12 -11.82L26.12 0M26.75 0L26.75 -13.06L19.9 -3.73L29.86 -3.73" fill="none" stroke="#ff4500" stroke-width="0.9" stroke-linecap="round" stroke-linejoin="round"/></g>
<g transform="translate(728.8 272.25)" role="img" aria-label="0.3"><title>0.3</title><path d="M5.6 -13.06L3.73 -12.44L2.49 -10.57L1.87 -7.46L1.87 -5.6L2.49 -2.49L3.73 -0.62L5.6 0L6.84 0L8.71 -0.62L9.95 -2.49L10.57 -5.6L10.57 -7.46L9.95 -10.57L8.71 -12.44L6.84 -13.06L5.6 -13.06L4.35 -12.44L3.73 -11.82L3.11 -10.57L2.49 -7.46L2.49 -5.6L3.11 -2.49L3.73 -1.24L4.35 -0.62L5.6 0M6.84 -13.06L8.09 -12.44L8.71 -11.82L9.33 -10.57L9.95 -7.46L9.95 -5.6L9.33 -2.49L8.71 -1.24L8.09 -0.62L6.84 0M14.93 -0.62L15.55 -1.24L16.17 -0.62L15.55 0L14.93 -0.62M21.15 -10.57L21.77 -9.95L21.15 -9.33L20.53 -9.95L20.53 -10.57L21.15 -11.82L21.77 -12.44L23.64 -13.06L26.12 -13.06L27.99 -12.44L28.61 -11.2L28.61 -9.33L27.99 -8.09L26.12 -7.46L24.26 -7.46M21.15 -2.49L21.77 -3.11L21.15 -3.73L20.53 -3.11L20.53 -2.49L21.15 -1.24L21.77 -0.62L23.64 0L26.12 0L27.99 -0.62L28.61 -1.24L29.23 -2.49L29.23 -4.35L28.61 -5.6L27.37 -6.84L26.12 -7.46L27.37 -8.09L27.99 -9.33L27.99 -11.2L27.37 -12.44L26.12 -13.06M26.12 0L27.37 -0.62L27.99 -1.24L28.61 -2.49L28.61 -4.35L27.99 -6.22" fill="none" stroke="#ffd400" stroke-width="0.9" stroke-linecap="round" stroke-linejoin="round"/></g>
<g transform="translate(728.8 308.61)" role="img" aria-label="0.2"><title>0.2</title><path d="M5.6 -13.06L3.73 -12.44L2.49 -10.57L1.87 -7.46L1.87 -5.6L2.49 -2.49L3.73 -0.62L5.6 0L6.84 0L8.71 -0.62L9.95 -2.49L10.57 -5.6L10.57 -7.46L9.95 -10.57L8.71 -12.44L6.84 -13.06L5.6 -13.06L4.35 -12.44L3.73 -11.82L3.11 -10.57L2.49 -7.46L2.49 -5.6L3.11 -2.49L3.73 -1.24L4.35 -0.62L5.6 0M6.84 -13.06L8.09 -12.44L8.71 -11.82L9.33 -10.57L9.95 -7.46L9.95 -5.6L9.33 -2.49L8.71 -1.24L8.09 -0.62L6.84 0M14.93 -0.62L15.55 -1.24L16.17 -0.62L15.55 0L14.93 -0.62M20.53 -1.24L20.53 -1.87L21.15 -3.73L22.39 -4.98L26.12 -6.84L27.99 -8.09L28.61 -9.33L28.61 -10.57L27.99 -11.82L27.37 -12.44L26.12 -13.06L23.64 -13.06L21.77 -12.44L21.15 -11.82L20.53 -10.57L20.53 -9.95L21.15 -9.33L21.77 -9.95L21.15 -10.57M20.53 -1.24L20.53 0M20.53 -1.24L21.15 -1.87L22.39 -1.87L25.5 -0.62L27.37 -0.62L28.61 -1.24L29.23 -1.87L29.23 -3.11M22.39 -1.87L25.5 0L27.99 0L28.61 -0.62L29.23 -1.87M23.64 -5.6L26.75 -6.84L28.61 -8.09L29.23 -9.33L29.23 -10.57L28.61 -11.82L27.99 -12.44L26.12 -13.06" fill="none" stroke="#00ff00" stroke-width="0.9" stroke-linecap="round" stroke-linejoin="round"/></g>
<g transform="translate(728.8 360.55)" role="img" aria-label="0.1"><title>0.1</title><path d="M5.6 -13.06L3.73 -12.44L2.49 -10.57L1.87 -7.46L1.87 -5.6L2.49 -2.49L3.73 -0.62L5.6 0L6.84 0L8.71 -0.62L9.95 -2.49L10.57 -5.6L10.57 -7.46L9.95 -10.57L8.71 -12.44L6.84 -13.06L5.6 -13.06L4.35 -12.44L3.73 -11.82L3.11 -10.57L2.49 -7.46L2.49 -5.6L3.11 -2.49L3.73 -1.24L4.35 -0.62L5.6 0M6.84 -13.06L8.09 -12.44L8.71 -11.82L9.33 -10.57L9.95 -7.46L9.95 -5.6L9.33 -2.49L8.71 -1.24L8.09 -0.62L6.84 0M14.93 -0.62L15.55 -1.24L16.17 -0.62L15.55 0L14.93 -0.62M22.39 -10.57L23.64 -11.2L25.5 -13.06L25.5 0L27.99 0M22.39 0L25.5 0M24.88 -12.44L24.88 0" fill="none" stroke="#2e8b57" stroke-width="0.9" stroke-linecap="round" stroke-linejoin="round"/></g>
<g transform="translate(728.8 400.3)" role="img" aria-label="0.05"><title>0.05</title><path d="M5.6 -13.06L3.73 -12.44L2.49 -10.57L1.87 -7.46L1.87 -5.6L2.49 -2.49L3.73 -0.62L5.6 0L6.84 0L8.71 -0.62L9.95 -2.49L10.57 -5.6L10.57 -7.46L9.95 -10.57L8.71 -12.44L6.84 -13.06L5.6 -13.06L4.35 -12.44L3.73 -11.82L3.11 -10.57L2.49 -7.46L2.49 -5.6L3.11 -2.49L3.73 -1.24L4.35 -0.62L5.6 0M6.84 -13.06L8.09 -12.44L8.71 -11.82L9.33 -10.57L9.95 -7.46L9.95 -5.6L9.33 -2.49L8.71 -1.24L8.09 -0.62L6.84 0M14.93 -0.62L15.55 -1.24L16.17 -0.62L15.55 0L14.93 -0.62M24.26 -13.06L22.39 -12.44L21.15 -10.57L20.53 -7.46L20.53 -5.6L21.15 -2.49L22.39 -0.62L24.26 0L25.5 0L27.37 -0.62L28.61 -2.49L29.23 -5.6L29.23 -7.46L28.61 -10.57L27.37 -12.44L25.5 -13.06L24.26 -13.06L23.01 -12.44L22.39 -11.82L21.77 -10.57L21.15 -7.46L21.15 -5.6L21.77 -2.49L22.39 -1.24L23.01 -0.62L24.26 0M25.5 -13.06L26.75 -12.44L27.37 -11.82L27.99 -10.57L28.61 -7.46L28.61 -5.6L27.99 -2.49L27.37 -1.24L26.75 -0.62L25.5 0M33.59 -2.49L34.21 -3.11L33.59 -3.73L32.97 -3.11L32.97 -2.49L33.59 -1.24L34.21 -0.62L36.08 0L37.94 0L39.81 -0.62L41.05 -1.87L41.67 -3.73L41.67 -4.98L41.05 -6.84L39.81 -8.09L37.94 -8.71L36.08 -8.71L34.21 -8.09L32.97 -6.84L34.21 -13.06L40.43 -13.06L37.32 -12.44L34.21 -12.44M37.94 -8.71L39.19 -8.09L40.43 -6.84L41.05 -4.98L41.05 -3.73L40.43 -1.87L39.19 -0.62L37.94 0" fill="none" stroke="#00ced1" stroke-width="0.9" stroke-linecap="round" stroke-linejoin="round"/></g>
<g transform="translate(728.8 456.96)" role="img" aria-label="0.01"><title>0.01</title><path d="M5.6 -13.06L3.73 -12.44L2.49 -10.57L1.87 -7.46L1.87 -5.6L2.49 -2.49L3.73 -0.62L5.6 0L6.84 0L8.71 -0.62L9.95 -2.49L10.57 -5.6L10.57 -7.46L9.95 -10.57L8.71 -12.44L6.84 -13.06L5.6 -13.06L4.35 -12.44L3.73 -11.82L3.11 -10.57L2.49 -7.46L2.49 -5.6L3.11 -2.49L3.73 -1.24L4.35 -0.62L5.6 0M6.84 -13.06L8.09 -12.44L8.71 -11.82L9.33 -10.57L9.95 -7.46L9.95 -5.6L9.33 -2.49L8.71 -1.24L8.09 -0.62L6.84 0M14.93 -0.62L15.55 -1.24L16.17 -0.62L15.55 0L14.93 -0.62M24.26 -13.06L22.39 -12.44L21.15 -10.57L20.53 -7.46L20.53 -5.6L21.15 -2.49L22.39 -0.62L24.26 0L25.5 0L27.37 -0.62L28.61 -2.49L29.23 -5.6L29.23 -7.46L28.61 -10.57L27.37 -12.44L25.5 -13.06L24.26 -13.06L23.01 -12.44L22.39 -11.82L21.77 -10.57L21.15 -7.46L21.15 -5.6L21.77 -2.49L22.39 -1.24L23.01 -0.62L24.26 0M25.5 -13.06L26.75 -12.44L27.37 -11.82L27.99 -10.57L28.61 -7.46L28.61 -5.6L27.99 -2.49L27.37 -1.24L26.75 -0.62L25.5 0M34.83 -10.57L36.08 -11.2L37.94 -13.06L37.94 0L40.43 0M34.83 0L37.94 0M37.32 -12.44L37.32 0" fill="none" stroke="#0000ff" stroke-width="0.9" stroke-linecap="round" stroke-linejoin="round"/></g>
<g transform="translate(728.8 488.34)" role="img" aria-label="0.001"><title>0.001</title><path d="M5.6 -13.06L3.73 -12.44L2.49 -10.57L1.87 -7.46L1.87 -5.6L2.49 -2.49L3.73 -0.62L5.6 0L6.84 0L8.71 -0.62L9.95 -2.49L10.57 -5.6L10.57 -7.46L9.95 -10.57L8.71 -12.44L6.84 -13.06L5.6 -13.06L4.35 -12.44L3.73 -11.82L3.11 -10.57L2.49 -7.46L2.49 -5.6L3.11 -2.49L3.73 -1.24L4.35 -0.62L5.6 0M6.84 -13.06L8.09 -12.44L8.71 -11.82L9.33 -10.57L9.95 -7.46L9.95 -5.6L9.33 -2.49L8.71 -1.24L8.09 -0.62L6.84 0M14.93 -0.62L15.55 -1.24L16.17 -0.62L15.55 0L14.93 -0.62M24.26 -13.06L22.39 -12.44L21.15 -10.57L20.53 -7.46L20.53 -5.6L21.15 -2.49L22.39 -0.62L24.26 0L25.5 0L27.37 -0.62L28.61 -2.49L29.23 -5.6L29.23 -7.46L28.61 -10.57L27.37 -12.44L25.5 -13.06L24.26 -13.06L23.01 -12.44L22.39 -11.82L21.77 -10.57L21.15 -7.46L21.15 -5.6L21.77 -2.49L22.39 -1.24L23.01 -0.62L24.26 0M25.5 -13.06L26.75 -12.44L27.37 -11.82L27.99 -10.57L28.61 -7.46L28.61 -5.6L27.99 -2.49L27.37 -1.24L26.75 -0.62L25.5 0M36.7 -13.06L34.83 -12.44L33.59 -10.57L32.97 -7.46L32.97 -5.6L33.59 -2.49L34.83 -0.62L36.7 0L37.94 0L39.81 -0.62L41.05 -2.49L41.67 -5.6L41.67 -7.46L41.05 -10.57L39.81 -12.44L37.94 -13.06L36.7 -13.06L35.45 -12.44L34.83 -11.82L34.21 -10.57L33.59 -7.46L33.59 -5.6L34.21 -2.49L34.83 -1.24L35.45 -0.62L36.7 0M37.94 -13.06L39.19 -12.44L39.81 -11.82L40.43 -10.57L41.05 -7.46L41.05 -5.6L40.43 -2.49L39.81 -1.24L39.19 -0.62L37.94 0M47.27 -10.57L48.52 -11.2L50.38 -13.06L50.38 0L52.87 0M47.27 0L50.38 0M49.76 -12.44L49.76 0" fill="none" stroke="#00008b" stroke-width="0.9" stroke-linecap="round" stroke-linejoin="round"/></g>
<g transform="translate(728.8 507.16)" role="img" aria-label="core"><title>core</title><path d="M5.6 -8.71L4.35 -8.09L3.11 -6.84L2.49 -4.98L2.49 -3.73L3.11 -1.87L4.35 -0.62L5.6 0L6.84 0L8.71 -0.62L9.95 -1.87M5.6 -8.71L3.73 -8.09L2.49 -6.84L1.87 -4.98L1.87 -3.73L2.49 -1.87L3.73 -0.62L5.6 0M5.6 -8.71L7.46 -8.71L8.71 -8.09L9.95 -6.84L9.95 -6.22L9.33 -5.6L8.71 -6.22L9.33 -6.84M17.42 -8.71L16.17 -8.09L14.93 -6.84L14.31 -4.98L14.31 -3.73L14.93 -1.87L16.17 -0.62L17.42 0L18.66 0L20.53 -0.62L21.77 -1.87L22.39 -3.73L22.39 -4.98L21.77 -6.84L20.53 -8.09L18.66 -8.71L17.42 -8.71L15.55 -8.09L14.31 -6.84L13.68 -4.98L13.68 -3.73L14.31 -1.87L15.55 -0.62L17.42 0M18.66 -8.71L19.9 -8.09L21.15 -6.84L21.77 -4.98L21.77 -3.73L21.15 -1.87L19.9 -0.62L18.66 0M25.5 -8.71L27.99 -8.71L27.99 0L25.5 0M27.37 -8.71L27.37 0M27.99 -4.98L28.61 -6.84L29.86 -8.09L31.1 -8.71L32.97 -8.71L33.59 -8.09L33.59 -7.46L32.97 -6.84L32.34 -7.46L32.97 -8.09M27.99 0L29.86 0M37.32 -4.98L37.32 -3.73L37.94 -1.87L39.19 -0.62L40.43 0L41.67 0L43.54 -0.62L44.78 -1.87M37.32 -4.98L44.78 -4.98L44.78 -6.22L44.16 -7.46L43.54 -8.09L42.3 -8.71L40.43 -8.71L38.56 -8.09L37.32 -6.84L36.7 -4.98L36.7 -3.73L37.32 -1.87L38.56 -0.62L40.43 0M37.32 -4.98L37.94 -6.84L39.19 -8.09L40.43 -8.71M43.54 -8.09L44.16 -6.84L44.16 -4.98" fill="none" stroke="#000000" stroke-width="0.9" stroke-linecap="round" stroke-linejoin="round"/></g>
</svg>
</body></html>
